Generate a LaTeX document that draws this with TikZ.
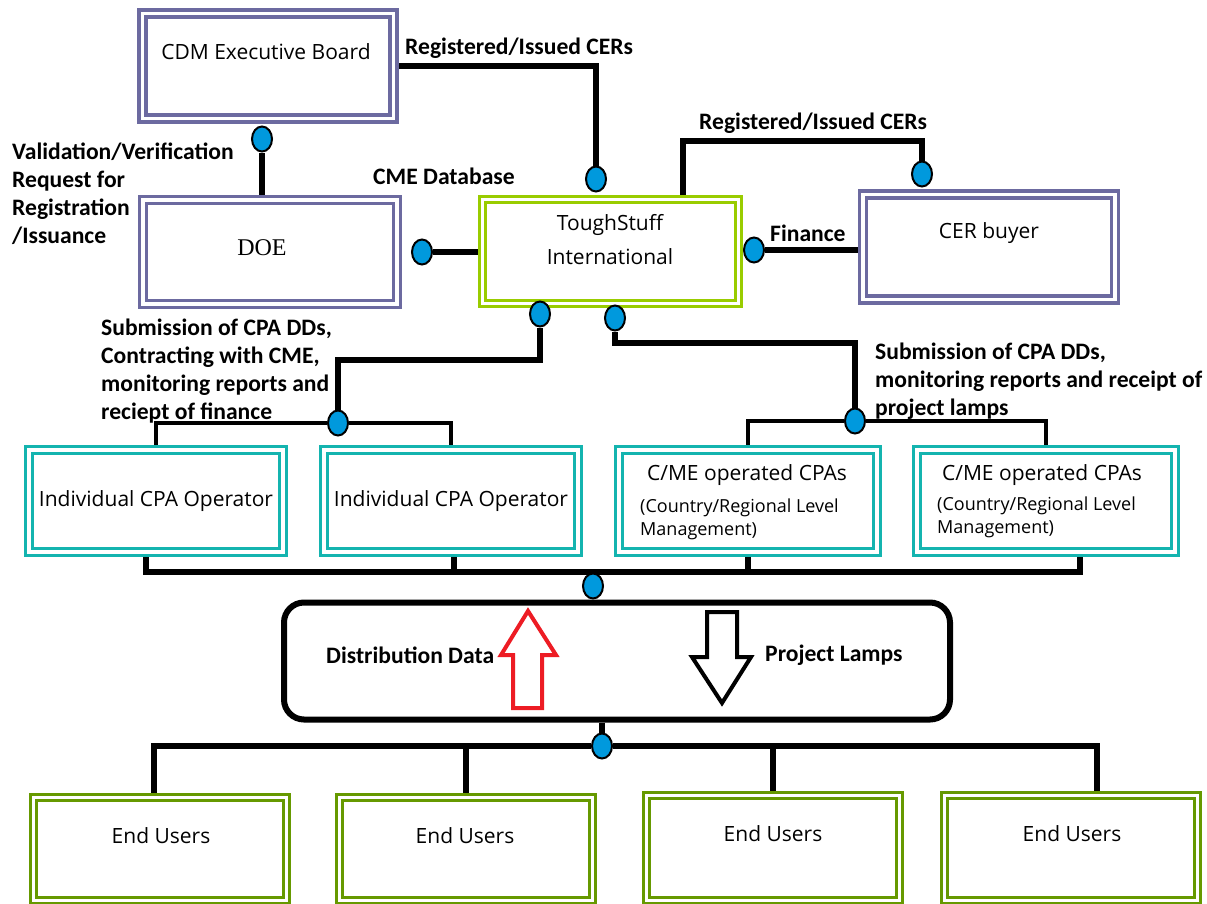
\documentclass[tikz,border=0pt]{standalone}
\usepackage{fontspec}
\setmainfont{Open Sans}
\newfontfamily\lblfont{Carlito}
\newfontfamily\doefont{Liberation Serif}
\usetikzlibrary{shapes.geometric}
\pgfdeclarelayer{back}
\pgfsetlayers{back,main}

\definecolor{boardpurple}{RGB}{108,106,160}
\definecolor{tsgreen}{RGB}{153,204,0}
\definecolor{cpateal}{RGB}{20,180,175}
\definecolor{usergreen}{RGB}{102,153,0}
\definecolor{dotblue}{RGB}{0,153,221}
\definecolor{arrowred}{RGB}{237,28,36}

\tikzset{
  dbox/.style={draw=#1, line width=3.5pt, double=white, double distance=3.5pt,
    inner sep=0pt, align=center, font=\fontsize{21}{25}\selectfont},
  boxtext/.style={inner sep=0pt, align=center, font=\fontsize{21}{34}\selectfont},
  subtext/.style={inner sep=0pt, align=left, anchor=west, font=\fontsize{18}{23}\selectfont},
  lbl/.style={inner sep=0pt, align=left, anchor=west, font=\lblfont\bfseries\fontsize{23.6}{28}\selectfont},
  joint/.style={ellipse, draw=black, line width=2pt, fill=dotblue, inner sep=0pt,
    minimum width=20pt, minimum height=25pt},
  wire/.style={line width=6pt},
  thinwire/.style={line width=4pt},
  bigarrow/.style={line width=4pt, line join=miter, fill=white}
}

\begin{document}
\begin{tikzpicture}[x=1pt, y=-1pt]
\useasboundingbox (0,0) rectangle (1207,903);

% top row
\node[dbox=boardpurple, minimum width=251pt, minimum height=105pt] (cdm) at (268,66) {};
\node[boxtext] (cdmtxt) at (266,52) {CDM Executive Board};
\node[dbox=boardpurple, minimum width=254pt, minimum height=104pt] (doe) at (270,252) {};
\node[boxtext, font=\doefont\fontsize{24}{28}\selectfont] (doetxt) at (262,248) {DOE};
\node[dbox=tsgreen, line width=3pt, double distance=3pt, minimum width=256pt, minimum height=104pt] (tough) at (610,251) {};
\node[boxtext] (toughtxt) at (610,240) {ToughStuff\\International};
\node[dbox=boardpurple, minimum width=252pt, minimum height=105pt] (buyer) at (989,247) {};
\node[boxtext] (buyertxt) at (989,233) {CER buyer};

% CPA row
\node[dbox=cpateal, minimum width=254pt, minimum height=102pt] (cpaA) at (156,501) {Individual CPA Operator};
\node[dbox=cpateal, minimum width=254pt, minimum height=102pt] (cpaB) at (451,501) {Individual CPA Operator};
\node[dbox=cpateal, minimum width=258pt, minimum height=102pt] (cmeA) at (748,501) {};
\node[boxtext] (cmeAtxt) at (747,475) {C/ME operated CPAs};
\node[subtext] (cmeAsub) at (640,519) {(Country/Regional Level\\Management)};
\node[dbox=cpateal, minimum width=258pt, minimum height=102pt] (cmeB) at (1046,501) {};
\node[boxtext] (cmeBtxt) at (1042,475) {C/ME operated CPAs};
\node[subtext] (cmeBsub) at (937,517) {(Country/Regional Level\\Management)};

% hub with the two flows
\node[draw, line width=6pt, rounded corners=20pt, minimum width=666pt, minimum height=117pt] (hub) at (617,661) {};
\draw[bigarrow, draw=arrowred] (513,708) -- (513,655) -- (501,655) -- (528,611) -- (556,655)
  -- (542,655) -- (542,708) -- cycle;
\draw[bigarrow, draw=black] (707,612) -- (737,612) -- (737,657) -- (751,657) -- (722,703)
  -- (692,657) -- (707,657) -- cycle;
\node[lbl] (lblDist) at (326,655) {Distribution Data};
\node[lbl] (lblLamps) at (765,655) {Project Lamps};

% end users
\node[dbox=usergreen, line width=3pt, double distance=3pt, minimum width=253pt, minimum height=103pt] (euA) at (160,849) {};
\node[dbox=usergreen, line width=3pt, double distance=3pt, minimum width=253pt, minimum height=103pt] (euB) at (466,849) {};
\node[dbox=usergreen, line width=3pt, double distance=3pt, minimum width=253pt, minimum height=105pt] (euC) at (773,848) {};
\node[dbox=usergreen, line width=3pt, double distance=3pt, minimum width=253pt, minimum height=105pt] (euD) at (1071,848) {};
\node[boxtext] (euAtxt) at (161,836) {End Users};
\node[boxtext] (euBtxt) at (465,836) {End Users};
\node[boxtext] (euCtxt) at (773,834) {End Users};
\node[boxtext] (euDtxt) at (1072,834) {End Users};

% joints
\node[joint] (dotEB) at (262,139) {};
\node[joint] (dotTS) at (596,179) {};
\node[joint] (dotDOE) at (422,252) {};
\node[joint] (dotBuyer) at (922,174) {};
\node[joint] (dotFin) at (754,250) {};
\node[joint] (dotL) at (540,314) {};
\node[joint] (dotR) at (615,318) {};
\node[joint] (dotLj) at (338,423) {};
\node[joint] (dotRj) at (855,421) {};
\node[joint] (dotHubT) at (593,586) {};
\node[joint] (dotHubB) at (602,746) {};

% labels
\node[lbl] (lblReg1) at (405,48) {Registered/Issued CERs};
\node[lbl] (lblReg2) at (699,123) {Registered/Issued CERs};
\node[lbl] (lblCME) at (373,176) {CME Database};
\node[lbl] (lblFin) at (770,233) {Finance};
\node[lbl] (lblVal) at (12,194) {Validation/Verification\\Request for\\Registration\\/Issuance};
\node[lbl] (lblSubL) at (101,371) {Submission of CPA DDs,\\Contracting with CME,\\monitoring reports and\\reciept of finance};
\node[lbl] (lblSubR) at (875,381) {Submission of CPA DDs,\\monitoring reports and receipt of\\project lamps};

% connectors
\coordinate (bus) at (593,572);
\begin{pgfonlayer}{back}
\draw[wire] (cdm.east) -| (dotTS);
\draw[wire] (dotEB) -- (dotEB |- doe.north);
\draw[wire] (dotDOE) -- (dotDOE -| tough.west);
\draw[wire] ([xshift=73pt]tough.north) -- ++(0,-57) -| (dotBuyer);
\draw[wire] (dotFin) -- (dotFin -| buyer.west);
\draw[wire] (dotL) -- ++(0,46) -| (dotLj);
\draw[wire] (dotR) -- ++(0,25) -| (dotRj);
\draw[thinwire] (cpaA.north) |- (dotLj) -| (cpaB.north);
\draw[thinwire] (cmeA.north) |- (dotRj) -| (cmeB.north);
\draw[wire] ([xshift=-10pt]cpaA.south) |- (bus) -| ([xshift=34pt]cmeB.south);
\draw[wire] ([xshift=3pt]cpaB.south) -- ([xshift=3pt]cpaB.south |- bus);
\draw[wire] (cmeA.south) -- (cmeA.south |- bus);
\draw[wire] (bus) -- (dotHubT) -- (dotHubT |- hub.north);
\draw[wire] (dotHubB |- hub.south) -- (dotHubB);
\draw[wire] ([xshift=-6pt]euA.north) |- (dotHubB) -| ([xshift=26pt]euD.north);
\draw[wire] (euB.north) -- (euB.north |- dotHubB);
\draw[wire] (euC.north) -- (euC.north |- dotHubB);
\end{pgfonlayer}
\end{tikzpicture}
\end{document}
